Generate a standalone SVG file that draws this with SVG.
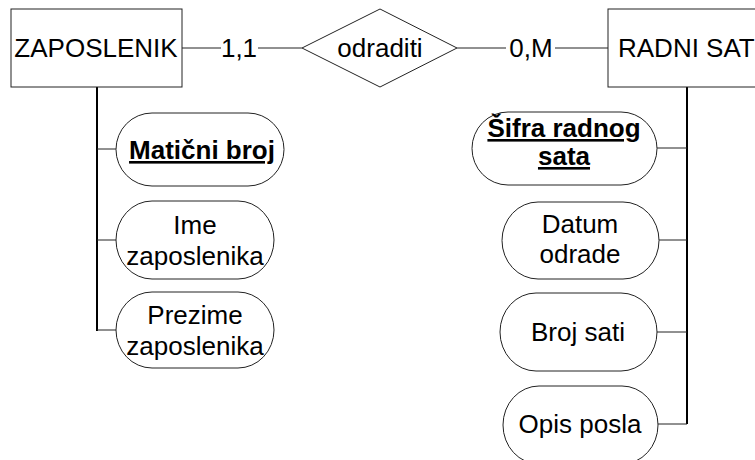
<svg xmlns="http://www.w3.org/2000/svg" width="755" height="460" viewBox="0 0 755 460">
<style>
text{font-family:"Liberation Sans",Arial,sans-serif;font-size:26px;fill:#000}
.c{text-anchor:middle}
.k{font-weight:bold;text-decoration:underline}
.box{fill:#fff;stroke:#222;stroke-width:1}
.ln{fill:none;stroke:#222;stroke-width:1}
.vl{fill:none;stroke:#000;stroke-width:2}
</style>
<rect width="755" height="460" fill="#fff"/>
<g id="connectors">
<line class="ln" x1="182" y1="48" x2="221" y2="48"/>
<line class="ln" x1="258" y1="48" x2="302" y2="48"/>
<line class="ln" x1="457" y1="48" x2="506" y2="48"/>
<line class="ln" x1="555" y1="48" x2="608" y2="48"/>
<text x="239" y="57" class="c">1,1</text>
<text x="531" y="57" class="c">0,M</text>
<polyline class="vl" points="97,87 97,331"/>
<line class="ln" x1="97" y1="149" x2="116" y2="149"/>
<line class="ln" x1="97" y1="240" x2="116" y2="240"/>
<line class="ln" x1="97" y1="330" x2="116" y2="330"/>
<polyline class="vl" points="687,87 687,424"/>
<line class="ln" x1="657" y1="148" x2="687" y2="148"/>
<line class="ln" x1="659" y1="240" x2="687" y2="240"/>
<line class="ln" x1="657" y1="332" x2="687" y2="332"/>
<line class="ln" x1="658" y1="424" x2="687" y2="424"/>
</g>
<g id="zaposlenik">
<rect class="box" x="11" y="9" width="171" height="78"/>
<text x="96" y="57" class="c">ZAPOSLENIK</text>
</g>
<g id="odraditi">
<polygon class="box" points="302,48 380,9 457,48 380,87"/>
<text x="380" y="57" class="c">odraditi</text>
</g>
<g id="radni-sat">
<rect class="box" x="608" y="9" width="160" height="78"/>
<text x="618" y="57">RADNI SAT</text>
</g>
<g id="maticni-broj">
<rect class="box" x="116" y="113" width="168" height="73" rx="36" ry="36.5"/>
<text x="202" y="159" class="c k">Matični broj</text>
</g>
<g id="ime-zaposlenika">
<rect class="box" x="116" y="201" width="158" height="78" rx="36" ry="39"/>
<text x="195" y="234" class="c">Ime</text>
<text x="195" y="265" class="c">zaposlenika</text>
</g>
<g id="prezime-zaposlenika">
<rect class="box" x="116" y="292" width="158" height="76" rx="36" ry="38"/>
<text x="195" y="324" class="c">Prezime</text>
<text x="195" y="355" class="c">zaposlenika</text>
</g>
<g id="sifra-radnog-sata">
<rect class="box" x="472" y="112" width="185" height="73" rx="36" ry="36.5"/>
<text x="564" y="137" class="c k">Šifra radnog</text>
<text x="564" y="165" class="c k">sata</text>
</g>
<g id="datum-odrade">
<rect class="box" x="502" y="202" width="157" height="77" rx="36" ry="38.5"/>
<text x="580" y="233" class="c">Datum</text>
<text x="580" y="263" class="c">odrade</text>
</g>
<g id="broj-sati">
<rect class="box" x="500" y="293" width="157" height="78" rx="36" ry="39"/>
<text x="578" y="341" class="c">Broj sati</text>
</g>
<g id="opis-posla">
<rect class="box" x="503" y="386" width="155" height="78" rx="36" ry="39"/>
<text x="580" y="433" class="c">Opis posla</text>
</g>
</svg>
